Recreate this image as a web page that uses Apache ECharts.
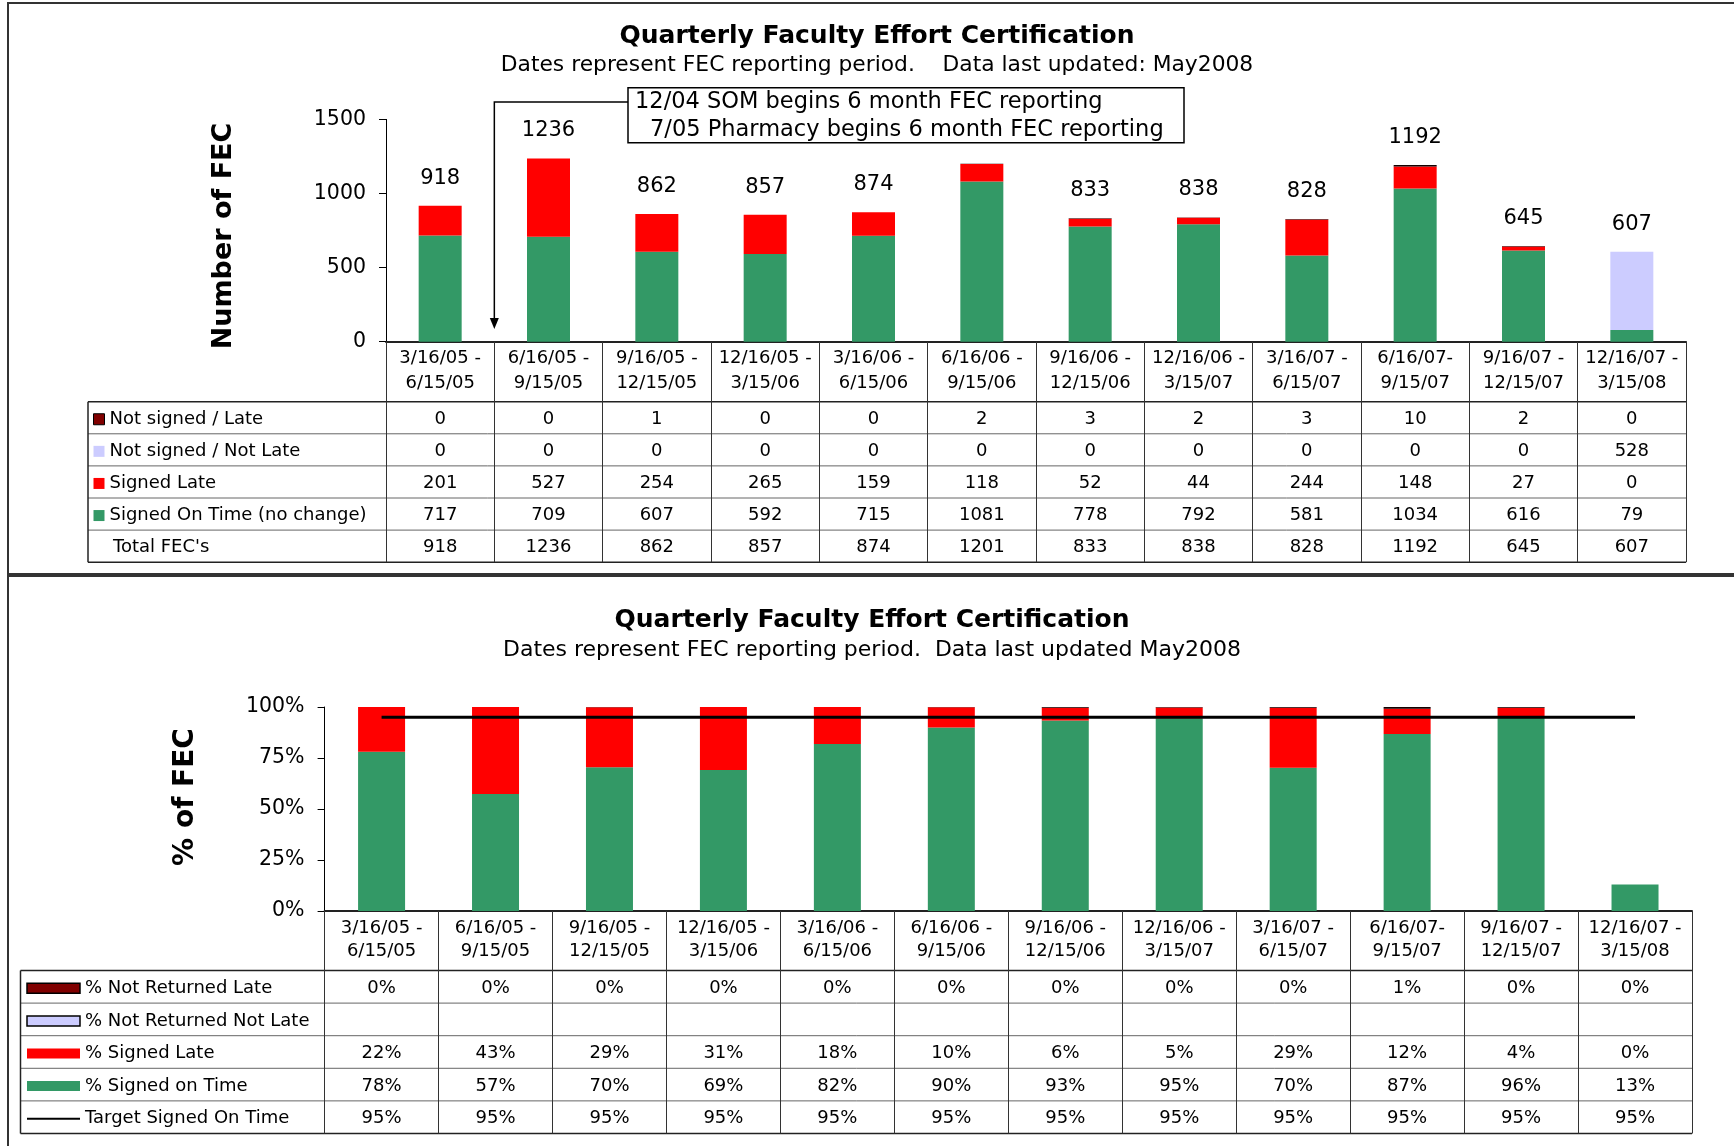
<!DOCTYPE html>
<html>
<head>
<meta charset="utf-8">
<title>Quarterly Faculty Effort Certification</title>
<script src="https://cdn.jsdelivr.net/npm/echarts@6.0.0/dist/echarts.min.js"></script>
<style>
html, body { margin: 0; padding: 0; background: #fff; }
#chart { width: 1734px; height: 1146px; }
</style>
</head>
<body>
<div id="chart"></div>
<script>
var categories = [
	"3/16/05 -\n6/15/05", "6/16/05 -\n9/15/05", "9/16/05 -\n12/15/05", "12/16/05 -\n3/15/06",
	"3/16/06 -\n6/15/06", "6/16/06 -\n9/15/06", "9/16/06 -\n12/15/06", "12/16/06 -\n3/15/07",
	"3/16/07 -\n6/15/07", "6/16/07-\n9/15/07", "9/16/07 -\n12/15/07", "12/16/07 -\n3/15/08"
];

// counts, top chart
var notSignedLate = [0, 0, 1, 0, 0, 2, 3, 2, 3, 10, 2, 0];
var notSignedNotLate = [0, 0, 0, 0, 0, 0, 0, 0, 0, 0, 0, 528];
var signedLate = [201, 527, 254, 265, 159, 118, 52, 44, 244, 148, 27, 0];
var signedOnTime = [717, 709, 607, 592, 715, 1081, 778, 792, 581, 1034, 616, 79];
var totalFec = [918, 1236, 862, 857, 874, 1201, 833, 838, 828, 1192, 645, 607];
// the 6/16/06 bar carries no total above it in the original
var hiddenTotalLabels = [5];

// percentages, bottom chart
var pctNotReturnedLate = [0, 0, 0.12, 0, 0, 0.17, 0.36, 0.24, 0.36, 0.84, 0.31, 0];
var pctNotReturnedNotLate = [null, null, null, null, null, null, null, null, null, null, null, null];
var pctSignedLate = [21.90, 42.64, 29.47, 30.92, 18.19, 9.83, 6.24, 5.25, 29.47, 12.42, 4.19, 0];
var pctSignedOnTime = [78.10, 57.36, 70.42, 69.08, 81.81, 90.01, 93.40, 94.51, 70.17, 86.74, 95.50, 13.01];
var pctTarget = [95, 95, 95, 95, 95, 95, 95, 95, 95, 95, 95, 95];

// axis scales
var countAxis = {min: 0, max: 1500, interval: 500};
var pctAxis = {min: 0, max: 100, interval: 25};

var FONT = "'DejaVu Sans', 'Liberation Sans', sans-serif";
var GREEN = "#339966", RED = "#ff0000", LAVENDER = "#ccccff", MAROON = "#800000", NEAR_BLACK = "#140000";

// layout of the two panels
var TOP = {left: 386, right: 1686, top: 119.4, bottom: 341.7, tableLeft: 88, rowTop: 401.7, rowH: 32.1, rows: 5};
var BOT = {left: 324.6, right: 1692, top: 707, bottom: 911, tableLeft: 20.5, rowTop: 970.5, rowH: 32.6, rows: 5};

var rowCenter = function(layout, k) {
	return layout.rowTop + layout.rowH * (k + 0.5) + 1.5;
};
var tableBottom = function(layout) {
	return layout.rowTop + layout.rowH * layout.rows;
};
var pctText = function(values) {
	return values.map(function(v) {
		return v == null ? "" : Math.round(v) + "%";
	});
};
var dropZero = function(values) {
	return values.map(function(v) {
		return v ? v : "-";
	});
};

var mainAxis = function(gridIndex, layout, lineHeight) {
	return {
		type: "category",
		gridIndex: gridIndex,
		data: categories,
		position: "bottom",
		axisLine: {show: true, lineStyle: {color: "#222", width: 2}},
		axisTick: {show: true, interval: 0, length: tableBottom(layout) - layout.bottom, lineStyle: {color: "#333", width: 1}},
		axisLabel: {interval: 0, color: "#000", fontFamily: FONT, fontSize: 18, lineHeight: lineHeight, margin: (layout.rowTop - layout.bottom) / 2 - 1, verticalAlign: "middle"},
		splitLine: {show: false}
	};
};

// each row of the data table is an extra category axis, so cells line up with the bars
var rowAxis = function(gridIndex, layout, k, texts) {
	return {
		type: "category",
		gridIndex: gridIndex,
		data: categories,
		position: "bottom",
		offset: rowCenter(layout, k) - layout.bottom,
		axisLine: {show: false},
		axisTick: {show: false},
		splitLine: {show: false},
		axisLabel: {
			interval: 0, margin: 0, verticalAlign: "middle", color: "#000", fontFamily: FONT, fontSize: 18,
			formatter: function(value, index) {
				return String(texts[index]);
			}
		}
	};
};

var valueAxis = function(gridIndex, scale, suffix) {
	return {
		type: "value",
		gridIndex: gridIndex,
		min: scale.min,
		max: scale.max,
		interval: scale.interval,
		axisLine: {show: true, lineStyle: {color: "#000", width: 1}},
		axisTick: {show: true, length: 7, lineStyle: {color: "#000"}},
		axisLabel: {
			color: "#000", fontFamily: FONT, fontSize: 20.5, margin: 20,
			formatter: function(value) {
				// no thousands separator in the original
				return String(value) + suffix;
			}
		},
		splitLine: {show: false}
	};
};

var tableLines = function(layout) {
	var els = [];
	var right = layout.right;
	for (var k = 0; k <= layout.rows; k++) {
		var y = layout.rowTop + k * layout.rowH;
		var outer = k == 0 || k == layout.rows;
		els.push({
			type: "line",
			shape: {x1: layout.tableLeft, y1: y, x2: right, y2: y},
			style: {stroke: outer ? "#222" : "#666", lineWidth: outer ? 1.5 : 1}
		});
	}
	els.push({
		type: "line",
		shape: {x1: layout.tableLeft, y1: layout.rowTop, x2: layout.tableLeft, y2: tableBottom(layout)},
		style: {stroke: "#222", lineWidth: 1.5}
	});
	return els;
};

var arrowX = TOP.left + (TOP.right - TOP.left) / categories.length;
var graphics = [
	// panel frames
	{type: "rect", shape: {x: 8, y: 3, width: 1800, height: 571}, style: {fill: "none", stroke: "#333", lineWidth: 2}},
	{type: "rect", shape: {x: 8, y: 576, width: 1800, height: 700}, style: {fill: "none", stroke: "#333", lineWidth: 2}},
	// axis names
	{type: "text", x: 224, y: 236, rotation: Math.PI / 2, style: {text: "Number of FEC", fill: "#000", fontFamily: FONT, fontSize: 27, fontWeight: "bold", align: "center", verticalAlign: "middle"}},
	{type: "text", x: 186, y: 797, rotation: Math.PI / 2, style: {text: "% of FEC", fill: "#000", fontFamily: FONT, fontSize: 28, fontWeight: "bold", align: "center", verticalAlign: "middle"}},
	// annotation
	{type: "rect", shape: {x: 628, y: 87.7, width: 556, height: 55}, style: {fill: "#fff", stroke: "#000", lineWidth: 1.5}},
	{type: "text", x: 635, y: 102, style: {text: "12/04 SOM begins 6 month FEC reporting", fill: "#000", fontFamily: FONT, fontSize: 22.5, align: "left", verticalAlign: "middle"}},
	{type: "text", x: 650, y: 130, style: {text: "7/05 Pharmacy begins 6 month FEC reporting", fill: "#000", fontFamily: FONT, fontSize: 22.5, align: "left", verticalAlign: "middle"}},
	{type: "polyline", shape: {points: [[628, 102], [arrowX, 102], [arrowX, 320]]}, style: {stroke: "#000", lineWidth: 1.5, fill: null}},
	{type: "polygon", shape: {points: [[arrowX - 4.5, 318], [arrowX + 4.5, 318], [arrowX, 329]]}, style: {fill: "#000"}},
	// last row label of the first table
	{type: "text", x: 113, y: rowCenter(TOP, 4), style: {text: "Total FEC's", fill: "#000", fontFamily: FONT, fontSize: 18, align: "left", verticalAlign: "middle"}}
].concat(tableLines(TOP), tableLines(BOT));

var chart = echarts.init(document.getElementById("chart"), null, {renderer: "canvas"});

var option = {
	animation: false,
	backgroundColor: "#fff",
	title: [{
		text: "Quarterly Faculty Effort Certification",
		subtext: "Dates represent FEC reporting period.    Data last updated: May2008",
		left: 877, top: 21, textAlign: "center", itemGap: 2, padding: 0,
		textStyle: {fontFamily: FONT, fontSize: 25, fontWeight: "bold", color: "#000", lineHeight: 30},
		subtextStyle: {fontFamily: FONT, fontSize: 21.8, color: "#000", lineHeight: 24}
	}, {
		text: "Quarterly Faculty Effort Certification",
		subtext: "Dates represent FEC reporting period.  Data last updated May2008",
		left: 872, top: 605, textAlign: "center", itemGap: 3, padding: 0,
		textStyle: {fontFamily: FONT, fontSize: 25, fontWeight: "bold", color: "#000", lineHeight: 30},
		subtextStyle: {fontFamily: FONT, fontSize: 22, color: "#000", lineHeight: 24}
	}],
	legend: [{
		orient: "vertical", left: 93, top: rowCenter(TOP, 0) - 10, padding: 0,
		itemGap: TOP.rowH - 20, itemWidth: 11, itemHeight: 11, selectedMode: false, icon: "rect",
		textStyle: {fontFamily: FONT, fontSize: 18, lineHeight: 20, color: "#000"},
		data: [
			{name: "Not signed / Late", itemStyle: {color: MAROON, borderColor: "#000", borderWidth: 1}},
			"Not signed / Not Late", "Signed Late", "Signed On Time (no change)"
		]
	}, {
		orient: "vertical", left: 26, top: rowCenter(BOT, 0) - 10, padding: 0,
		itemGap: BOT.rowH - 20, itemWidth: 53, itemHeight: 10, selectedMode: false,
		textStyle: {fontFamily: FONT, fontSize: 18, lineHeight: 20, color: "#000"},
		data: [
			{name: "% Not Returned Late", icon: "rect", itemStyle: {color: MAROON, borderColor: "#000", borderWidth: 1.5}},
			{name: "% Not Returned Not Late", icon: "rect", itemStyle: {borderColor: "#000", borderWidth: 1.5}},
			{name: "% Signed Late", icon: "rect"},
			{name: "% Signed on Time", icon: "rect"},
			// plain line key, hide the marker the line legend adds by default
			{name: "Target Signed On Time", itemStyle: {color: "rgba(0,0,0,0)", borderWidth: 0, opacity: 0}}
		]
	}],
	grid: [
		{left: TOP.left, top: TOP.top, width: TOP.right - TOP.left, height: TOP.bottom - TOP.top, outerBoundsMode: "none"},
		{left: BOT.left, top: BOT.top, width: BOT.right - BOT.left, height: BOT.bottom - BOT.top, outerBoundsMode: "none"}
	],
	xAxis: [
		mainAxis(0, TOP, 24.5),
		rowAxis(0, TOP, 0, notSignedLate),
		rowAxis(0, TOP, 1, notSignedNotLate),
		rowAxis(0, TOP, 2, signedLate),
		rowAxis(0, TOP, 3, signedOnTime),
		rowAxis(0, TOP, 4, totalFec),
		mainAxis(1, BOT, 23.5),
		rowAxis(1, BOT, 0, pctText(pctNotReturnedLate)),
		rowAxis(1, BOT, 1, pctText(pctNotReturnedNotLate)),
		rowAxis(1, BOT, 2, pctText(pctSignedLate)),
		rowAxis(1, BOT, 3, pctText(pctSignedOnTime)),
		rowAxis(1, BOT, 4, pctText(pctTarget))
	],
	yAxis: [
		valueAxis(0, countAxis, ""),
		valueAxis(1, pctAxis, "%")
	],
	graphic: graphics,
	series: [
		{name: "Signed On Time (no change)", type: "bar", stack: "count", xAxisIndex: 0, yAxisIndex: 0, barWidth: 43, itemStyle: {color: GREEN}, data: signedOnTime},
		{name: "Signed Late", type: "bar", stack: "count", xAxisIndex: 0, yAxisIndex: 0, barWidth: 43, itemStyle: {color: RED}, data: signedLate},
		{name: "Not signed / Not Late", type: "bar", stack: "count", xAxisIndex: 0, yAxisIndex: 0, barWidth: 43, itemStyle: {color: LAVENDER}, data: notSignedNotLate},
		{name: "Not signed / Late", type: "bar", stack: "count", xAxisIndex: 0, yAxisIndex: 0, barWidth: 43, itemStyle: {color: NEAR_BLACK}, data: dropZero(notSignedLate)},
		{
			name: "totals", type: "scatter", xAxisIndex: 0, yAxisIndex: 0, symbolSize: 0, silent: true,
			itemStyle: {color: "#000", opacity: 1},
			label: {show: true, position: "top", distance: 17, color: "#000", opacity: 1, fontFamily: FONT, fontSize: 21},
			data: totalFec.map(function(v, i) {
				return hiddenTotalLabels.indexOf(i) >= 0 ? {value: v, label: {show: false}} : v;
			})
		},
		{name: "% Signed on Time", type: "bar", stack: "pct", xAxisIndex: 6, yAxisIndex: 1, barWidth: 47, itemStyle: {color: GREEN}, data: pctSignedOnTime},
		{name: "% Signed Late", type: "bar", stack: "pct", xAxisIndex: 6, yAxisIndex: 1, barWidth: 47, itemStyle: {color: RED}, data: dropZero(pctSignedLate)},
		{name: "% Not Returned Not Late", type: "bar", stack: "pct", xAxisIndex: 6, yAxisIndex: 1, barWidth: 47, itemStyle: {color: LAVENDER}, data: pctNotReturnedNotLate},
		{name: "% Not Returned Late", type: "bar", stack: "pct", xAxisIndex: 6, yAxisIndex: 1, barWidth: 47, itemStyle: {color: NEAR_BLACK}, data: dropZero(pctNotReturnedLate)},
		{name: "Target Signed On Time", type: "line", xAxisIndex: 6, yAxisIndex: 1, symbol: "none", silent: true, lineStyle: {color: "#000", width: 3}, itemStyle: {color: "#000"}, data: pctTarget}
	]
};

chart.setOption(option);
</script>
</body>
</html>
